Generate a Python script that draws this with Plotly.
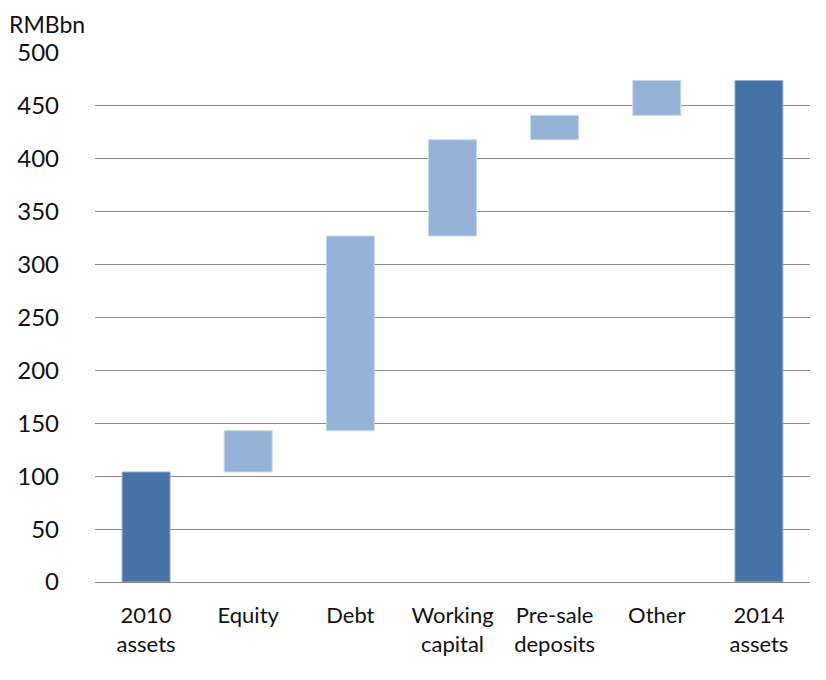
import plotly.graph_objects as go

categories = ["2010<br>assets", "Equity", "Debt", "Working<br>capital", "Pre-sale<br>deposits", "Other", "2014<br>assets"]
measures = ["absolute", "relative", "relative", "relative", "relative", "relative", "total"]
values = [104, 39, 184, 91, 23, 33, 0]
y_ticks = [0, 50, 100, 150, 200, 250, 300, 350, 400, 450, 500]

DARK = "#4572A7"
LIGHT = "#95B3D7"
FONT = "Lato"

fig = go.Figure(go.Waterfall(
    x=categories,
    y=values,
    measure=measures,
    increasing=dict(marker=dict(color=LIGHT, line=dict(color="#C9D9EC", width=1))),
    decreasing=dict(marker=dict(color=LIGHT, line=dict(color="#C9D9EC", width=1))),
    totals=dict(marker=dict(color=DARK, line=dict(color="#9DB4D3", width=1))),
    connector=dict(visible=False),
    textinfo="none",
    hoverinfo="x+y",
))

fig.update_layout(
    width=826, height=680,
    margin=dict(l=87, r=24, t=45, b=106),
    paper_bgcolor="white", plot_bgcolor="white",
    font=dict(family=FONT, size=22, color="#111111"),
    showlegend=False,
    waterfallgap=0.53,
    xaxis=dict(showgrid=False, showline=False, ticks="", ticklabelstandoff=18,
               automargin=False, tickfont=dict(size=22)),
    yaxis=dict(range=[0, 500], tickvals=y_ticks, showgrid=True, gridcolor="#8C8C8C",
               gridwidth=1.3, zeroline=True, zerolinecolor="#8C8C8C", zerolinewidth=1.3,
               showline=False, ticks="", ticklabelstandoff=35, automargin=False,
               tickfont=dict(size=24)),
    annotations=[dict(text="RMBbn", x=-0.123, y=1.085, xref="paper", yref="paper",
                      xanchor="left", yanchor="top", showarrow=False,
                      font=dict(family=FONT, size=23, color="#111111"))],
)

fig.write_html("out.html")
